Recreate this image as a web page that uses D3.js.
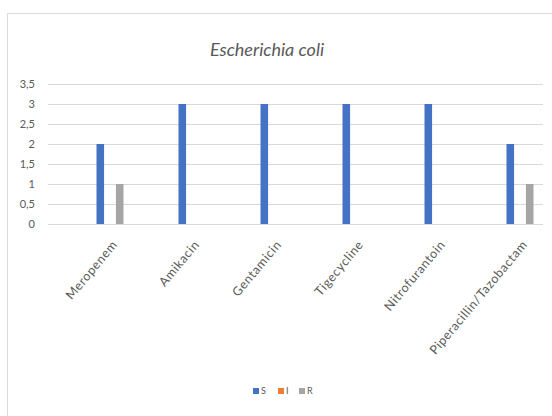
<!DOCTYPE html>
<html>
<head>
<meta charset="utf-8">
<script src="https://cdn.jsdelivr.net/npm/d3@7"></script>
<style>
  html, body { margin: 0; padding: 0; background: #fff; }
  svg { display: block; }
  text { font-family: Lato, "Open Sans", sans-serif; fill: #595959; }
</style>
</head>
<body>
<svg id="chart" width="552" height="416"></svg>
<script>
// Antibiotic susceptibility counts for E. coli
const categories = ["Meropenem", "Amikacin", "Gentamicin", "Tigecycline", "Nitrofurantoin", "Piperacillin/Tazobactam"];
const seriesNames = ["S", "I", "R"];
const valuesS = [2, 3, 3, 3, 3, 2];
const valuesI = [0, 0, 0, 0, 0, 0];
const valuesR = [1, 0, 0, 0, 0, 1];
const yTicks = [0, 0.5, 1, 1.5, 2, 2.5, 3, 3.5];
const colors = ["#4472C4", "#ED7D31", "#A5A5A5"];

const series = [valuesS, valuesI, valuesR];
const rows = categories.map((c, i) => ({ cat: c, vals: series.map((s, k) => ({ key: seriesNames[k], v: s[i] })) }));

const svg = d3.select("#chart");

// chart frame
svg.append("rect")
  .attr("x", 7.5).attr("y", 13.5)
  .attr("width", 560).attr("height", 420)
  .attr("fill", "#fff").attr("stroke", "#d9d9d9");

const plot = { left: 48, right: 543, top: 84, bottom: 224 };

const y = d3.scaleLinear().domain([0, 3.5]).range([plot.bottom, plot.top]);
const x = d3.scaleBand().domain(categories).range([69, 561]);
const xInner = d3.scaleBand().domain(seriesNames).range([x.bandwidth() / 2 - 13.5, x.bandwidth() / 2 + 13.5]).paddingInner(0.22);

const fmt = v => String(v).replace(".", ",");

// horizontal gridlines
svg.append("g").selectAll("line").data(yTicks).join("line")
  .attr("x1", plot.left).attr("x2", plot.right)
  .attr("y1", d => Math.round(y(d)) + 0.5).attr("y2", d => Math.round(y(d)) + 0.5)
  .attr("stroke", "#d9d9d9").attr("stroke-width", 1);

// y axis labels
const yAxis = svg.append("g")
  .attr("transform", `translate(${plot.left - 10},0)`)
  .call(d3.axisLeft(y).tickValues(yTicks).tickFormat(fmt).tickSize(0));
yAxis.select(".domain").remove();
yAxis.selectAll("text").attr("font-size", 11).attr("fill", "#595959").attr("dy", "0.35em");

// bars
const groups = svg.append("g").selectAll("g").data(rows).join("g")
  .attr("transform", d => `translate(${x(d.cat)},0)`);
groups.selectAll("rect").data(d => d.vals).join("rect")
  .attr("x", d => xInner(d.key))
  .attr("width", xInner.bandwidth())
  .attr("y", d => y(d.v))
  .attr("height", d => plot.bottom - y(d.v))
  .attr("fill", (d, i) => colors[i]);

// category labels
const xAxis = svg.append("g")
  .attr("transform", `translate(0,${plot.bottom})`)
  .call(d3.axisBottom(x).tickSize(0));
xAxis.select(".domain").remove();
xAxis.selectAll("text")
  .attr("font-size", 12.5)
  .attr("letter-spacing", 0.6)
  .attr("fill", "#595959")
  .attr("text-anchor", "end")
  .attr("dy", null)
  .attr("y", 0)
  .attr("transform", "translate(8,21) rotate(-50)");

// title
svg.append("text")
  .attr("x", 267).attr("y", 56)
  .attr("text-anchor", "middle")
  .attr("font-size", 18)
  .attr("font-style", "italic")
  .attr("fill", "#595959")
  .text("Escherichia coli");

// legend
const legendX = [0, 25, 46];
const legend = svg.append("g").attr("transform", "translate(253,391)");
const item = legend.selectAll("g").data(seriesNames).join("g")
  .attr("transform", (d, i) => `translate(${legendX[i]},0)`);
item.append("rect").attr("x", 0).attr("y", -3).attr("width", 6).attr("height", 6)
  .attr("fill", (d, i) => colors[i]);
item.append("text").attr("x", 8).attr("y", 0).attr("dy", "0.35em")
  .attr("font-size", 9).attr("fill", "#595959").text(d => d);
</script>
</body>
</html>
